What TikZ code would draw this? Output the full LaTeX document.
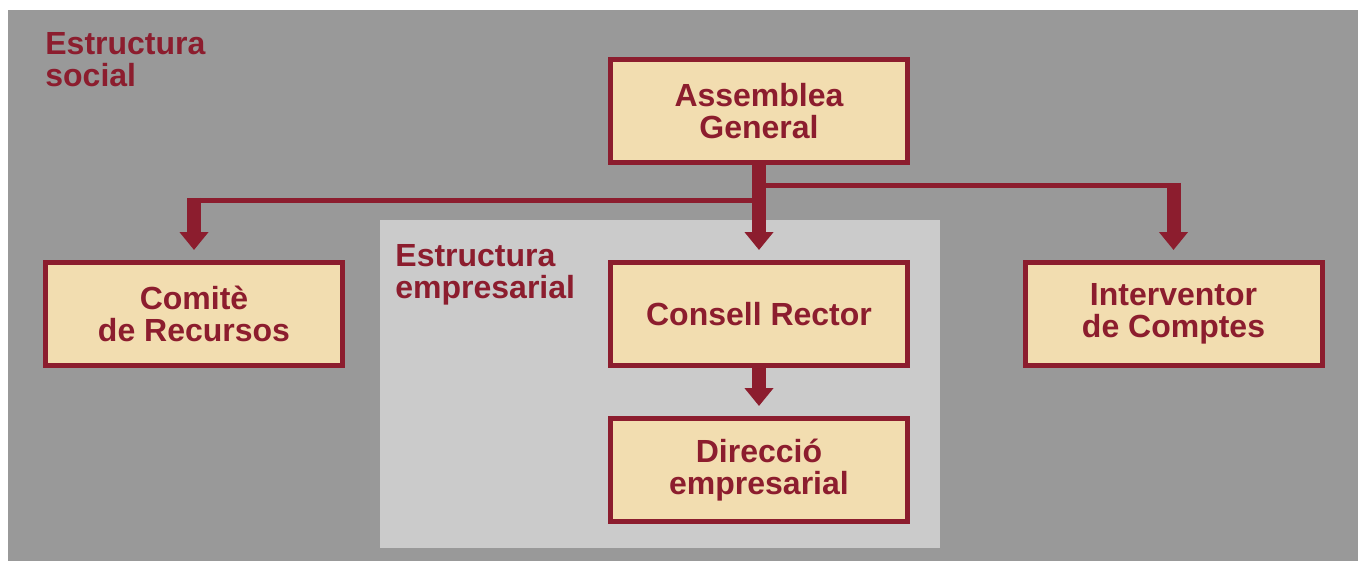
\documentclass[tikz,border=0pt]{standalone}
\usepackage{fontspec}
\setmainfont{Liberation Sans}
\usepackage{tikz}
\usetikzlibrary{positioning}
\usetikzlibrary{arrows.meta}
\definecolor{granat}{RGB}{140,29,46}
\definecolor{crema}{RGB}{242,221,176}
\definecolor{grisfosc}{RGB}{153,153,153}
\definecolor{grisclar}{RGB}{203,203,203}
\tikzstyle{line} = [draw=granat, line width=2.5pt]
\tikzstyle{fletxa} = [draw=granat, line width=7pt, -{Triangle[width=14pt,length=9pt]}, shorten >=5pt]

\begin{document}
\begin{tikzpicture}[x=0.5pt, y=-0.5pt, node distance=101.25pt]
				
				\tikzstyle{Organ} = [rectangle, draw=granat, line width=2.5pt, fill=crema, text=granat, font=\bfseries\fontsize{16}{16}\selectfont, align=center, minimum width=148.5pt, minimum height=51.5pt, inner sep=0pt]
				\tikzstyle{titol} = [text=granat, font=\bfseries\fontsize{16}{16}\selectfont, align=left, anchor=north west, inner sep=0pt]
				
				% Fons
				\useasboundingbox (0,0) rectangle (1358,561);
				\fill [grisfosc] (8,10) rectangle (1358,561);
				\fill [grisclar] (380,220) rectangle (940,548);
				
				% Place nodes
				\node [Organ] (assemblea) at (759,111.5) {Assemblea\\General};
				\node [Organ, below of=assemblea] (consell) {Consell Rector};
				\node [Organ, below of=consell, node distance=78pt] (direccio) {Direcció\\empresarial};
				\node [Organ, left of=consell, node distance=282.5pt] (comite) {Comitè\\de Recursos};
				\node [Organ, right of=consell, node distance=207.25pt] (interventor) {Interventor\\de Comptes};
				\node [titol] (social) at (45,32) {Estructura\\social};
				\node [titol] (empresarial) at (395,244) {Estructura\\empresarial};
				
				% Branques
				\coordinate (nusE) at (759,200.5);
				\coordinate (nusD) at (759,185.5);
				\coordinate (colzeE) at (comite.north |- 0,198);
				\coordinate (colzeD) at (interventor.north |- 0,183);
				
				\path [line] (nusE) -- (nusE -| colzeE);
				\path [line] (nusD) -- (nusD -| colzeD);
				\path [fletxa] (colzeE) -- (comite.north);
				\path [fletxa] (colzeD) -- (interventor.north);
				\path [fletxa] (assemblea) -- (consell);
				\path [fletxa] (consell) -- (direccio);
				
				\end{tikzpicture}
\end{document}
